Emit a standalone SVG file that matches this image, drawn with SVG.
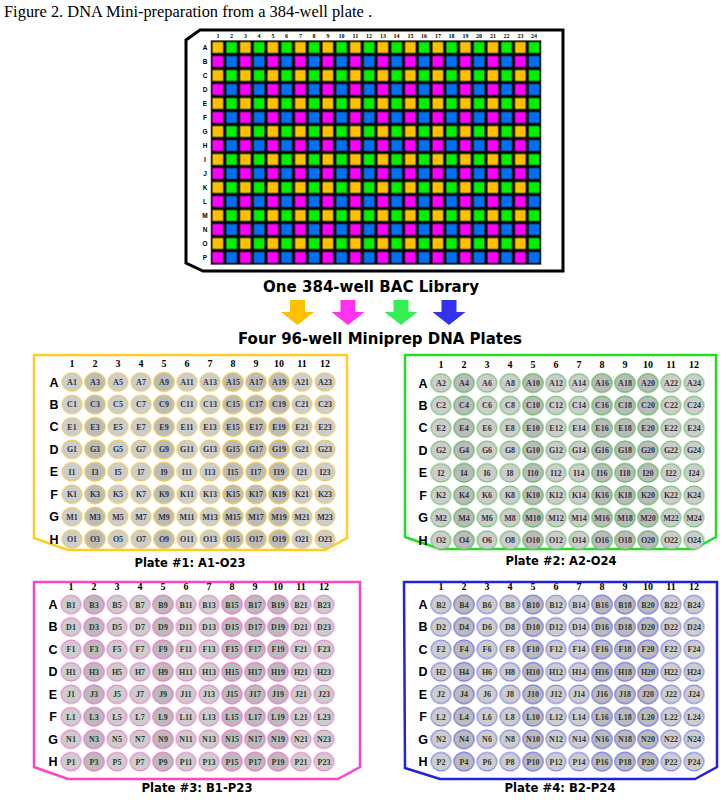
<svg xmlns="http://www.w3.org/2000/svg" xmlns:xlink="http://www.w3.org/1999/xlink" width="723" height="800" viewBox="0 0 723 800">
<style>
.title{font-family:'Liberation Serif',serif;font-size:16px;fill:#000}
.n384{font-family:'Liberation Serif',serif;font-weight:bold;font-size:6px;text-anchor:middle;fill:#000}
.r384{font-family:'Liberation Sans',sans-serif;font-weight:bold;font-size:6.5px;text-anchor:middle;fill:#000}
.hd{font-family:'DejaVu Sans',sans-serif;font-weight:bold;font-size:15.5px;text-anchor:middle;fill:#000}
.pl{font-family:'DejaVu Sans',sans-serif;font-weight:bold;font-size:11.5px;text-anchor:middle;fill:#000}
.wl{font-family:'Liberation Serif',serif;font-weight:bold;font-size:8px;text-anchor:middle;fill:#333}
.cn{font-family:'Liberation Serif',serif;font-weight:bold;font-size:10px;text-anchor:middle;fill:#000}
.rl{font-family:'Liberation Sans',sans-serif;font-weight:bold;font-size:12.5px;text-anchor:middle;fill:#000}
.frame{fill:#fff;stroke-width:2.5}
</style>
<defs>
<pattern id="p384" patternUnits="userSpaceOnUse" x="211" y="40.5" width="27.5" height="28">
<rect width="27.5" height="28" fill="#000"/>
<rect x="1.5" y="1.5" width="10.75" height="11" fill="#FFC000"/>
<rect x="15.25" y="1.5" width="10.75" height="11" fill="#00F000"/>
<rect x="1.5" y="15.5" width="10.75" height="11" fill="#FF00FF"/>
<rect x="15.25" y="15.5" width="10.75" height="11" fill="#0070F0"/>
</pattern>
<pattern id="wY" patternUnits="userSpaceOnUse" x="-11.5" y="-11.225" width="23" height="22.45"><ellipse cx="11.5" cy="11.225" rx="10" ry="9.2" fill="#CDCDCD" stroke="#EEC84A" stroke-width="1"/></pattern>
<pattern id="wYd" patternUnits="userSpaceOnUse" x="-11.5" y="-11.225" width="23" height="22.45"><ellipse cx="11.5" cy="11.225" rx="10" ry="9.2" fill="#BBBBBB" stroke="#EEC84A" stroke-width="1"/></pattern>
<pattern id="wG" patternUnits="userSpaceOnUse" x="-11.5" y="-11.225" width="23" height="22.45"><ellipse cx="11.5" cy="11.225" rx="10" ry="9.2" fill="#CDCDCD" stroke="#66BB66" stroke-width="1"/></pattern>
<pattern id="wGd" patternUnits="userSpaceOnUse" x="-11.5" y="-11.225" width="23" height="22.45"><ellipse cx="11.5" cy="11.225" rx="10" ry="9.2" fill="#BBBBBB" stroke="#66BB66" stroke-width="1"/></pattern>
<pattern id="wM" patternUnits="userSpaceOnUse" x="-11.5" y="-11.225" width="23" height="22.45"><ellipse cx="11.5" cy="11.225" rx="10" ry="9.2" fill="#CDCDCD" stroke="#EE77CC" stroke-width="1"/></pattern>
<pattern id="wMd" patternUnits="userSpaceOnUse" x="-11.5" y="-11.225" width="23" height="22.45"><ellipse cx="11.5" cy="11.225" rx="10" ry="9.2" fill="#BBBBBB" stroke="#EE77CC" stroke-width="1"/></pattern>
<pattern id="wB" patternUnits="userSpaceOnUse" x="-11.5" y="-11.225" width="23" height="22.45"><ellipse cx="11.5" cy="11.225" rx="10" ry="9.2" fill="#CDCDCD" stroke="#7777EE" stroke-width="1"/></pattern>
<pattern id="wBd" patternUnits="userSpaceOnUse" x="-11.5" y="-11.225" width="23" height="22.45"><ellipse cx="11.5" cy="11.225" rx="10" ry="9.2" fill="#BBBBBB" stroke="#7777EE" stroke-width="1"/></pattern>
<g id="colnums"><text class="cn" y="-15"><tspan x="0">1</tspan><tspan x="23">2</tspan><tspan x="46">3</tspan><tspan x="69">4</tspan><tspan x="92">5</tspan><tspan x="115">6</tspan><tspan x="138">7</tspan><tspan x="161">8</tspan><tspan x="184">9</tspan><tspan x="207">10</tspan><tspan x="230">11</tspan><tspan x="253">12</tspan></text></g>
<g id="rowlets"><text class="rl" x="-18"><tspan x="-18" y="4.5">A</tspan><tspan x="-18" y="26.95">B</tspan><tspan x="-18" y="49.4">C</tspan><tspan x="-18" y="71.85">D</tspan><tspan x="-18" y="94.3">E</tspan><tspan x="-18" y="116.75">F</tspan><tspan x="-18" y="139.2">G</tspan><tspan x="-18" y="161.65">H</tspan></text></g>
</defs>
<rect width="723" height="800" fill="#fff"/>
<text class="title" x="4" y="17" textLength="368" lengthAdjust="spacingAndGlyphs">Figure 2. DNA Mini-preparation from a 384-well plate .</text>

<g id="plate384">
<polygon points="186,40 200,30 563,30 563,271 203,271 186,263" fill="#fff" stroke="#000" stroke-width="3"/>
<rect x="211" y="40.5" width="330" height="224" fill="url(#p384)" stroke="#666" stroke-width="0.8"/>
<text class="n384" y="37.5"><tspan x="217.9">1</tspan><tspan x="231.6">2</tspan><tspan x="245.4">3</tspan><tspan x="259.1">4</tspan><tspan x="272.9">5</tspan><tspan x="286.6">6</tspan><tspan x="300.4">7</tspan><tspan x="314.1">8</tspan><tspan x="327.9">9</tspan><tspan x="341.6">10</tspan><tspan x="355.4">11</tspan><tspan x="369.1">12</tspan><tspan x="382.9">13</tspan><tspan x="396.6">14</tspan><tspan x="410.4">15</tspan><tspan x="424.1">16</tspan><tspan x="437.9">17</tspan><tspan x="451.6">18</tspan><tspan x="465.4">19</tspan><tspan x="479.1">20</tspan><tspan x="492.9">21</tspan><tspan x="506.6">22</tspan><tspan x="520.4">23</tspan><tspan x="534.1">24</tspan></text>
<text class="r384"><tspan x="205" y="49.8">A</tspan><tspan x="205" y="63.8">B</tspan><tspan x="205" y="77.8">C</tspan><tspan x="205" y="91.8">D</tspan><tspan x="205" y="105.8">E</tspan><tspan x="205" y="119.8">F</tspan><tspan x="205" y="133.8">G</tspan><tspan x="205" y="147.8">H</tspan><tspan x="205" y="161.8">I</tspan><tspan x="205" y="175.8">J</tspan><tspan x="205" y="189.8">K</tspan><tspan x="205" y="203.8">L</tspan><tspan x="205" y="217.8">M</tspan><tspan x="205" y="231.8">N</tspan><tspan x="205" y="245.8">O</tspan><tspan x="205" y="259.8">P</tspan></text>
<text class="hd" x="371" y="291.5" textLength="216" lengthAdjust="spacingAndGlyphs">One 384-well BAC Library</text>
</g>

<g id="connectors">
<polygon points="290,300 305,300 305,312 314,312 297.5,325 281,312 290,312" fill="#FFC000"/>
<polygon points="340.5,300 355.5,300 355.5,312 364.5,312 348,325 331.5,312 340.5,312" fill="#FF33EE"/>
<polygon points="393.5,300 408.5,300 408.5,312 417.5,312 401,325 384.5,312 393.5,312" fill="#33EE55"/>
<polygon points="441.5,300 456.5,300 456.5,312 465.5,312 449,325 432.5,312 441.5,312" fill="#3333EE"/>
</g>
<text class="hd" x="380" y="344" textLength="284" lengthAdjust="spacingAndGlyphs">Four 96-well Miniprep DNA Plates</text>

<g id="plate1">
<polygon class="frame" points="34,355 347,355 347,538 325,550 68,550 34,538" stroke="#FFCC22"/>
<g transform="translate(72,382)">
<rect x="-11.5" y="-11.225" width="276" height="179.6" fill="url(#wY)"/>
<rect x="11.5" y="-11.225" width="23" height="179.6" fill="url(#wYd)"/>
<rect x="80.5" y="-11.225" width="23" height="179.6" fill="url(#wYd)"/>
<rect x="149.5" y="-11.225" width="69" height="179.6" fill="url(#wYd)"/>
<use xlink:href="#colnums" href="#colnums"/>
<use xlink:href="#rowlets" href="#rowlets"/>
<text class="wl" y="3"><tspan x="0">A1</tspan><tspan x="23">A3</tspan><tspan x="46">A5</tspan><tspan x="69">A7</tspan><tspan x="92">A9</tspan><tspan x="115">A11</tspan><tspan x="138">A13</tspan><tspan x="161">A15</tspan><tspan x="184">A17</tspan><tspan x="207">A19</tspan><tspan x="230">A21</tspan><tspan x="253">A23</tspan></text>
<text class="wl" y="25.45"><tspan x="0">C1</tspan><tspan x="23">C3</tspan><tspan x="46">C5</tspan><tspan x="69">C7</tspan><tspan x="92">C9</tspan><tspan x="115">C11</tspan><tspan x="138">C13</tspan><tspan x="161">C15</tspan><tspan x="184">C17</tspan><tspan x="207">C19</tspan><tspan x="230">C21</tspan><tspan x="253">C23</tspan></text>
<text class="wl" y="47.9"><tspan x="0">E1</tspan><tspan x="23">E3</tspan><tspan x="46">E5</tspan><tspan x="69">E7</tspan><tspan x="92">E9</tspan><tspan x="115">E11</tspan><tspan x="138">E13</tspan><tspan x="161">E15</tspan><tspan x="184">E17</tspan><tspan x="207">E19</tspan><tspan x="230">E21</tspan><tspan x="253">E23</tspan></text>
<text class="wl" y="70.35"><tspan x="0">G1</tspan><tspan x="23">G3</tspan><tspan x="46">G5</tspan><tspan x="69">G7</tspan><tspan x="92">G9</tspan><tspan x="115">G11</tspan><tspan x="138">G13</tspan><tspan x="161">G15</tspan><tspan x="184">G17</tspan><tspan x="207">G19</tspan><tspan x="230">G21</tspan><tspan x="253">G23</tspan></text>
<text class="wl" y="92.8"><tspan x="0">I1</tspan><tspan x="23">I3</tspan><tspan x="46">I5</tspan><tspan x="69">I7</tspan><tspan x="92">I9</tspan><tspan x="115">I11</tspan><tspan x="138">I13</tspan><tspan x="161">I15</tspan><tspan x="184">I17</tspan><tspan x="207">I19</tspan><tspan x="230">I21</tspan><tspan x="253">I23</tspan></text>
<text class="wl" y="115.25"><tspan x="0">K1</tspan><tspan x="23">K3</tspan><tspan x="46">K5</tspan><tspan x="69">K7</tspan><tspan x="92">K9</tspan><tspan x="115">K11</tspan><tspan x="138">K13</tspan><tspan x="161">K15</tspan><tspan x="184">K17</tspan><tspan x="207">K19</tspan><tspan x="230">K21</tspan><tspan x="253">K23</tspan></text>
<text class="wl" y="137.7"><tspan x="0">M1</tspan><tspan x="23">M3</tspan><tspan x="46">M5</tspan><tspan x="69">M7</tspan><tspan x="92">M9</tspan><tspan x="115">M11</tspan><tspan x="138">M13</tspan><tspan x="161">M15</tspan><tspan x="184">M17</tspan><tspan x="207">M19</tspan><tspan x="230">M21</tspan><tspan x="253">M23</tspan></text>
<text class="wl" y="160.15"><tspan x="0">O1</tspan><tspan x="23">O3</tspan><tspan x="46">O5</tspan><tspan x="69">O7</tspan><tspan x="92">O9</tspan><tspan x="115">O11</tspan><tspan x="138">O13</tspan><tspan x="161">O15</tspan><tspan x="184">O17</tspan><tspan x="207">O19</tspan><tspan x="230">O21</tspan><tspan x="253">O23</tspan></text>
</g>
<text class="pl" x="190" y="567" textLength="111" lengthAdjust="spacingAndGlyphs">Plate #1: A1-O23</text>
</g>

<g id="plate2">
<polygon class="frame" points="405,355 716,355 716,537 694,549 440,549 405,537" stroke="#22DD22"/>
<g transform="translate(441,383)">
<rect x="-11.5" y="-11.225" width="276" height="179.6" fill="url(#wG)"/>
<rect x="11.5" y="-11.225" width="23" height="179.6" fill="url(#wGd)"/>
<rect x="80.5" y="-11.225" width="23" height="179.6" fill="url(#wGd)"/>
<rect x="149.5" y="-11.225" width="69" height="179.6" fill="url(#wGd)"/>
<use xlink:href="#colnums" href="#colnums"/>
<use xlink:href="#rowlets" href="#rowlets"/>
<text class="wl" y="3"><tspan x="0">A2</tspan><tspan x="23">A4</tspan><tspan x="46">A6</tspan><tspan x="69">A8</tspan><tspan x="92">A10</tspan><tspan x="115">A12</tspan><tspan x="138">A14</tspan><tspan x="161">A16</tspan><tspan x="184">A18</tspan><tspan x="207">A20</tspan><tspan x="230">A22</tspan><tspan x="253">A24</tspan></text>
<text class="wl" y="25.45"><tspan x="0">C2</tspan><tspan x="23">C4</tspan><tspan x="46">C6</tspan><tspan x="69">C8</tspan><tspan x="92">C10</tspan><tspan x="115">C12</tspan><tspan x="138">C14</tspan><tspan x="161">C16</tspan><tspan x="184">C18</tspan><tspan x="207">C20</tspan><tspan x="230">C22</tspan><tspan x="253">C24</tspan></text>
<text class="wl" y="47.9"><tspan x="0">E2</tspan><tspan x="23">E4</tspan><tspan x="46">E6</tspan><tspan x="69">E8</tspan><tspan x="92">E10</tspan><tspan x="115">E12</tspan><tspan x="138">E14</tspan><tspan x="161">E16</tspan><tspan x="184">E18</tspan><tspan x="207">E20</tspan><tspan x="230">E22</tspan><tspan x="253">E24</tspan></text>
<text class="wl" y="70.35"><tspan x="0">G2</tspan><tspan x="23">G4</tspan><tspan x="46">G6</tspan><tspan x="69">G8</tspan><tspan x="92">G10</tspan><tspan x="115">G12</tspan><tspan x="138">G14</tspan><tspan x="161">G16</tspan><tspan x="184">G18</tspan><tspan x="207">G20</tspan><tspan x="230">G22</tspan><tspan x="253">G24</tspan></text>
<text class="wl" y="92.8"><tspan x="0">I2</tspan><tspan x="23">I4</tspan><tspan x="46">I6</tspan><tspan x="69">I8</tspan><tspan x="92">I10</tspan><tspan x="115">I12</tspan><tspan x="138">I14</tspan><tspan x="161">I16</tspan><tspan x="184">I18</tspan><tspan x="207">I20</tspan><tspan x="230">I22</tspan><tspan x="253">I24</tspan></text>
<text class="wl" y="115.25"><tspan x="0">K2</tspan><tspan x="23">K4</tspan><tspan x="46">K6</tspan><tspan x="69">K8</tspan><tspan x="92">K10</tspan><tspan x="115">K12</tspan><tspan x="138">K14</tspan><tspan x="161">K16</tspan><tspan x="184">K18</tspan><tspan x="207">K20</tspan><tspan x="230">K22</tspan><tspan x="253">K24</tspan></text>
<text class="wl" y="137.7"><tspan x="0">M2</tspan><tspan x="23">M4</tspan><tspan x="46">M6</tspan><tspan x="69">M8</tspan><tspan x="92">M10</tspan><tspan x="115">M12</tspan><tspan x="138">M14</tspan><tspan x="161">M16</tspan><tspan x="184">M18</tspan><tspan x="207">M20</tspan><tspan x="230">M22</tspan><tspan x="253">M24</tspan></text>
<text class="wl" y="160.15"><tspan x="0">O2</tspan><tspan x="23">O4</tspan><tspan x="46">O6</tspan><tspan x="69">O8</tspan><tspan x="92">O10</tspan><tspan x="115">O12</tspan><tspan x="138">O14</tspan><tspan x="161">O16</tspan><tspan x="184">O18</tspan><tspan x="207">O20</tspan><tspan x="230">O22</tspan><tspan x="253">O24</tspan></text>
</g>
<text class="pl" x="561" y="565" textLength="111" lengthAdjust="spacingAndGlyphs">Plate #2: A2-O24</text>
</g>

<g id="plate3">
<polygon class="frame" points="34,582 360,582 360,767 338,779 68,779 34,767" stroke="#FF44CC"/>
<g transform="translate(71,604.5)">
<rect x="-11.5" y="-11.225" width="276" height="179.6" fill="url(#wM)"/>
<rect x="11.5" y="-11.225" width="23" height="179.6" fill="url(#wMd)"/>
<rect x="80.5" y="-11.225" width="23" height="179.6" fill="url(#wMd)"/>
<rect x="149.5" y="-11.225" width="69" height="179.6" fill="url(#wMd)"/>
<use xlink:href="#colnums" href="#colnums"/>
<use xlink:href="#rowlets" href="#rowlets"/>
<text class="wl" y="3"><tspan x="0">B1</tspan><tspan x="23">B3</tspan><tspan x="46">B5</tspan><tspan x="69">B7</tspan><tspan x="92">B9</tspan><tspan x="115">B11</tspan><tspan x="138">B13</tspan><tspan x="161">B15</tspan><tspan x="184">B17</tspan><tspan x="207">B19</tspan><tspan x="230">B21</tspan><tspan x="253">B23</tspan></text>
<text class="wl" y="25.45"><tspan x="0">D1</tspan><tspan x="23">D3</tspan><tspan x="46">D5</tspan><tspan x="69">D7</tspan><tspan x="92">D9</tspan><tspan x="115">D11</tspan><tspan x="138">D13</tspan><tspan x="161">D15</tspan><tspan x="184">D17</tspan><tspan x="207">D19</tspan><tspan x="230">D21</tspan><tspan x="253">D23</tspan></text>
<text class="wl" y="47.9"><tspan x="0">F1</tspan><tspan x="23">F3</tspan><tspan x="46">F5</tspan><tspan x="69">F7</tspan><tspan x="92">F9</tspan><tspan x="115">F11</tspan><tspan x="138">F13</tspan><tspan x="161">F15</tspan><tspan x="184">F17</tspan><tspan x="207">F19</tspan><tspan x="230">F21</tspan><tspan x="253">F23</tspan></text>
<text class="wl" y="70.35"><tspan x="0">H1</tspan><tspan x="23">H3</tspan><tspan x="46">H5</tspan><tspan x="69">H7</tspan><tspan x="92">H9</tspan><tspan x="115">H11</tspan><tspan x="138">H13</tspan><tspan x="161">H15</tspan><tspan x="184">H17</tspan><tspan x="207">H19</tspan><tspan x="230">H21</tspan><tspan x="253">H23</tspan></text>
<text class="wl" y="92.8"><tspan x="0">J1</tspan><tspan x="23">J3</tspan><tspan x="46">J5</tspan><tspan x="69">J7</tspan><tspan x="92">J9</tspan><tspan x="115">J11</tspan><tspan x="138">J13</tspan><tspan x="161">J15</tspan><tspan x="184">J17</tspan><tspan x="207">J19</tspan><tspan x="230">J21</tspan><tspan x="253">J23</tspan></text>
<text class="wl" y="115.25"><tspan x="0">L1</tspan><tspan x="23">L3</tspan><tspan x="46">L5</tspan><tspan x="69">L7</tspan><tspan x="92">L9</tspan><tspan x="115">L11</tspan><tspan x="138">L13</tspan><tspan x="161">L15</tspan><tspan x="184">L17</tspan><tspan x="207">L19</tspan><tspan x="230">L21</tspan><tspan x="253">L23</tspan></text>
<text class="wl" y="137.7"><tspan x="0">N1</tspan><tspan x="23">N3</tspan><tspan x="46">N5</tspan><tspan x="69">N7</tspan><tspan x="92">N9</tspan><tspan x="115">N11</tspan><tspan x="138">N13</tspan><tspan x="161">N15</tspan><tspan x="184">N17</tspan><tspan x="207">N19</tspan><tspan x="230">N21</tspan><tspan x="253">N23</tspan></text>
<text class="wl" y="160.15"><tspan x="0">P1</tspan><tspan x="23">P3</tspan><tspan x="46">P5</tspan><tspan x="69">P7</tspan><tspan x="92">P9</tspan><tspan x="115">P11</tspan><tspan x="138">P13</tspan><tspan x="161">P15</tspan><tspan x="184">P17</tspan><tspan x="207">P19</tspan><tspan x="230">P21</tspan><tspan x="253">P23</tspan></text>
</g>
<text class="pl" x="197" y="792" textLength="111" lengthAdjust="spacingAndGlyphs">Plate #3: B1-P23</text>
</g>

<g id="plate4">
<polygon class="frame" points="404,582 717,582 717,767 695,779 440,779 405,768" stroke="#2222DD"/>
<g transform="translate(441,604.5)">
<rect x="-11.5" y="-11.225" width="276" height="179.6" fill="url(#wB)"/>
<rect x="11.5" y="-11.225" width="23" height="179.6" fill="url(#wBd)"/>
<rect x="80.5" y="-11.225" width="23" height="179.6" fill="url(#wBd)"/>
<rect x="149.5" y="-11.225" width="69" height="179.6" fill="url(#wBd)"/>
<use xlink:href="#colnums" href="#colnums"/>
<use xlink:href="#rowlets" href="#rowlets"/>
<text class="wl" y="3"><tspan x="0">B2</tspan><tspan x="23">B4</tspan><tspan x="46">B6</tspan><tspan x="69">B8</tspan><tspan x="92">B10</tspan><tspan x="115">B12</tspan><tspan x="138">B14</tspan><tspan x="161">B16</tspan><tspan x="184">B18</tspan><tspan x="207">B20</tspan><tspan x="230">B22</tspan><tspan x="253">B24</tspan></text>
<text class="wl" y="25.45"><tspan x="0">D2</tspan><tspan x="23">D4</tspan><tspan x="46">D6</tspan><tspan x="69">D8</tspan><tspan x="92">D10</tspan><tspan x="115">D12</tspan><tspan x="138">D14</tspan><tspan x="161">D16</tspan><tspan x="184">D18</tspan><tspan x="207">D20</tspan><tspan x="230">D22</tspan><tspan x="253">D24</tspan></text>
<text class="wl" y="47.9"><tspan x="0">F2</tspan><tspan x="23">F4</tspan><tspan x="46">F6</tspan><tspan x="69">F8</tspan><tspan x="92">F10</tspan><tspan x="115">F12</tspan><tspan x="138">F14</tspan><tspan x="161">F16</tspan><tspan x="184">F18</tspan><tspan x="207">F20</tspan><tspan x="230">F22</tspan><tspan x="253">F24</tspan></text>
<text class="wl" y="70.35"><tspan x="0">H2</tspan><tspan x="23">H4</tspan><tspan x="46">H6</tspan><tspan x="69">H8</tspan><tspan x="92">H10</tspan><tspan x="115">H12</tspan><tspan x="138">H14</tspan><tspan x="161">H16</tspan><tspan x="184">H18</tspan><tspan x="207">H20</tspan><tspan x="230">H22</tspan><tspan x="253">H24</tspan></text>
<text class="wl" y="92.8"><tspan x="0">J2</tspan><tspan x="23">J4</tspan><tspan x="46">J6</tspan><tspan x="69">J8</tspan><tspan x="92">J10</tspan><tspan x="115">J12</tspan><tspan x="138">J14</tspan><tspan x="161">J16</tspan><tspan x="184">J18</tspan><tspan x="207">J20</tspan><tspan x="230">J22</tspan><tspan x="253">J24</tspan></text>
<text class="wl" y="115.25"><tspan x="0">L2</tspan><tspan x="23">L4</tspan><tspan x="46">L6</tspan><tspan x="69">L8</tspan><tspan x="92">L10</tspan><tspan x="115">L12</tspan><tspan x="138">L14</tspan><tspan x="161">L16</tspan><tspan x="184">L18</tspan><tspan x="207">L20</tspan><tspan x="230">L22</tspan><tspan x="253">L24</tspan></text>
<text class="wl" y="137.7"><tspan x="0">N2</tspan><tspan x="23">N4</tspan><tspan x="46">N6</tspan><tspan x="69">N8</tspan><tspan x="92">N10</tspan><tspan x="115">N12</tspan><tspan x="138">N14</tspan><tspan x="161">N16</tspan><tspan x="184">N18</tspan><tspan x="207">N20</tspan><tspan x="230">N22</tspan><tspan x="253">N24</tspan></text>
<text class="wl" y="160.15"><tspan x="0">P2</tspan><tspan x="23">P4</tspan><tspan x="46">P6</tspan><tspan x="69">P8</tspan><tspan x="92">P10</tspan><tspan x="115">P12</tspan><tspan x="138">P14</tspan><tspan x="161">P16</tspan><tspan x="184">P18</tspan><tspan x="207">P20</tspan><tspan x="230">P22</tspan><tspan x="253">P24</tspan></text>
</g>
<text class="pl" x="560" y="792" textLength="111" lengthAdjust="spacingAndGlyphs">Plate #4: B2-P24</text>
</g>
</svg>
